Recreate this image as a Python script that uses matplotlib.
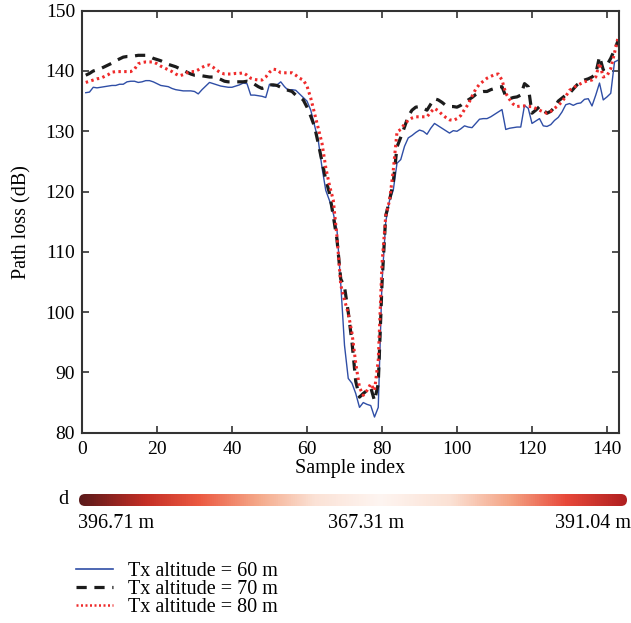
import matplotlib
matplotlib.use("Agg")
import matplotlib.pyplot as plt
import numpy as np
from matplotlib.colors import LinearSegmentedColormap
from matplotlib.lines import Line2D
from matplotlib.patches import FancyBboxPatch

# sample indices 1..143
sample = np.arange(1, 144)

loss_60 = [
    136.4, 136.5, 137.3, 137.2, 137.3, 137.4, 137.5, 137.6, 137.6, 137.8,
    137.8, 138.2, 138.3, 138.3, 138.1, 138.2, 138.4, 138.4, 138.2, 137.9,
    137.6, 137.5, 137.4, 137.1, 136.9, 136.8, 136.7, 136.7, 136.7, 136.6,
    136.2, 136.9, 137.5, 138.1, 137.9, 137.7, 137.5, 137.4, 137.3, 137.3,
    137.5, 137.7, 138.0, 137.9, 136.0, 136.0, 135.9, 135.8, 135.6, 137.8,
    137.5, 137.7, 138.2, 137.4, 136.8, 136.9, 136.8, 136.2, 135.6, 135.0,
    133.5, 131.0, 128.5, 124.0, 120.2, 118.5, 116.4, 113.6, 104.7, 94.5,
    89.0, 88.2, 86.5, 84.2, 85.0, 84.7, 84.5, 82.6, 84.2, 105.0,
    115.0, 118.5, 120.2, 124.7, 125.3, 127.5, 128.9, 129.3, 129.8, 130.2,
    130.0, 129.5, 130.5, 131.3, 130.9, 130.5, 130.1, 129.7, 130.1, 130.0,
    130.4, 130.9, 130.7, 130.6, 131.3, 132.0, 132.1, 132.1, 132.4, 132.8,
    133.2, 133.6, 130.3, 130.5, 130.6, 130.7, 130.7, 134.3, 133.8, 131.3,
    131.7, 132.1, 130.9, 130.8, 131.1, 131.8, 132.3, 133.2, 134.4, 134.6,
    134.3, 134.6, 134.7, 135.3, 135.4, 134.2, 136.0, 138.0, 135.2, 135.7,
    136.3, 141.5, 141.8,
]

loss_70 = [
    139.3, 139.6, 140.0, 140.2, 140.4, 140.7, 141.0, 141.3, 141.7, 142.0,
    142.3, 142.4, 142.4, 142.5, 142.6, 142.6, 142.6, 142.4, 142.1, 141.9,
    141.7, 141.4, 141.1, 140.9, 140.7, 140.4, 140.1, 139.8, 139.5, 139.3,
    139.3, 139.2, 139.1, 139.0, 139.0, 138.9, 138.6, 138.3, 138.2, 138.2,
    138.2, 138.2, 138.2, 138.3, 138.2, 137.8, 137.4, 137.1, 137.3, 137.7,
    137.7, 137.6, 137.3, 136.9, 136.8, 136.6, 136.0, 135.7, 135.2, 134.0,
    132.5, 130.8, 128.0, 125.0, 122.0, 119.7, 116.0, 112.0, 105.5, 104.2,
    100.0, 95.0, 88.5, 85.9, 86.5, 87.0, 87.5, 85.3, 88.1, 104.7,
    116.0, 118.5, 121.5, 127.4, 129.0, 130.7, 132.5, 133.5, 134.0, 134.1,
    133.8, 133.5, 134.5, 135.4, 135.2, 134.8, 134.3, 134.1, 134.1, 134.0,
    134.3, 134.8, 135.2, 135.6, 136.1, 136.5, 136.6, 136.6, 136.9, 137.1,
    137.3, 137.4, 135.8, 135.4, 135.6, 135.7, 136.0, 137.9, 137.4, 133.0,
    133.5, 134.1, 133.5, 133.0, 133.3, 134.0, 135.0, 135.5, 136.0, 136.3,
    137.0, 137.7, 138.2, 138.5, 138.7, 139.0, 139.5, 142.4, 140.2, 141.0,
    142.1, 143.5, 145.1,
]

loss_80 = [
    138.1, 138.3, 138.5, 138.7, 138.8, 139.1, 139.4, 139.8, 139.9, 139.9,
    139.9, 139.9, 139.9, 140.3, 141.2, 141.4, 141.5, 141.5, 141.5, 141.2,
    140.8, 140.5, 140.2, 139.9, 139.5, 139.2, 139.4, 139.7, 139.9, 139.9,
    140.2, 140.6, 140.9, 141.0, 140.6, 140.1, 139.7, 139.5, 139.5, 139.5,
    139.6, 139.6, 139.7, 139.3, 138.8, 138.6, 138.5, 138.5, 139.0, 139.8,
    140.3, 140.2, 139.7, 139.7, 139.7, 139.7, 139.3, 138.8, 138.5, 137.5,
    135.5, 133.0, 130.5, 128.0, 124.0, 121.0, 118.6, 112.5, 104.5, 102.0,
    99.8, 96.5, 91.5, 87.5, 86.2, 87.0, 88.1, 87.0, 92.0, 108.0,
    116.0, 118.5, 123.5, 129.9, 130.3, 131.2, 131.8, 132.2, 132.4, 132.4,
    132.4, 132.4, 133.2, 133.8, 133.4, 132.8, 132.3, 131.9, 131.8, 132.1,
    132.6, 133.6, 134.5, 135.8, 137.0, 137.8, 138.3, 138.8, 139.1, 139.4,
    139.5, 138.5, 136.3, 135.3, 134.5, 134.1, 134.2, 134.2, 134.1, 134.1,
    133.8, 133.5, 133.2, 133.0, 133.3, 133.8, 134.3, 134.9, 135.8, 136.8,
    137.2, 137.6, 137.9, 138.2, 138.4, 138.5, 139.0, 141.3, 139.0, 139.2,
    140.4, 143.0, 145.7,
]

labels = ["Tx altitude = 60 m", "Tx altitude = 70 m", "Tx altitude = 80 m"]
dist_labels = ["396.71 m", "367.31 m", "391.04 m"]

# colour stops of the distance bar (position along bar, colour)
bar_stops = [0.0, 0.12, 0.22, 0.33, 0.43, 0.55, 0.68, 0.79, 0.89, 1.0]
bar_colors = ["#5a1a1a", "#c42e25", "#ec5a42", "#f5ab8c", "#fbe2d6",
              "#fef5f1", "#fbe1d4", "#f4a283", "#e8493a", "#b01f20"]

plt.rcParams["font.family"] = ["Liberation Serif", "DejaVu Serif"]
FS = 14.5

fig = plt.figure(figsize=(6.31, 6.23), dpi=100)
ax = fig.add_axes([82 / 631, 1 - 432.7 / 623, (619 - 82) / 631, (432.7 - 10.7) / 623])

ax.plot(sample, loss_60, "-", color="#2f4ea6", linewidth=1.0)
ax.plot(sample, loss_70, color="#1c1c1c", linewidth=2.3, dashes=(3.2, 2.4))
ax.plot(sample, loss_80, color="#ef2b2b", linewidth=2.2, linestyle=(0, (0.8, 1.1)))

ax.set_xlim(0, 143.2)
ax.set_ylim(80, 150)
ax.set_xticks(range(0, 141, 20))
ax.set_yticks(range(80, 151, 10))
ax.tick_params(direction="in", top=True, right=True, length=5, width=1.2,
               color="#333333", labelsize=14, pad=5)
ax.tick_params(axis="x", pad=6)
for s in ax.spines.values():
    s.set_linewidth(1.5)
    s.set_color("#333333")
ax.set_xlabel("Sample index", fontsize=FS, labelpad=1)
ax.set_ylabel("Path loss (dB)", fontsize=FS, labelpad=10)

# distance colour bar with rounded ends
bar_l, bar_r, bar_top, bar_bot = 79, 627, 494, 506
bax = fig.add_axes([bar_l / 631, 1 - bar_bot / 623, (bar_r - bar_l) / 631, (bar_bot - bar_top) / 623])
bw, bh = bar_r - bar_l, bar_bot - bar_top
bax.set_xlim(0, bw)
bax.set_ylim(0, bh)
bax.axis("off")
cmap = LinearSegmentedColormap.from_list("dist", list(zip(bar_stops, bar_colors)))
grad = np.linspace(0, 1, 512)[None, :]
im = bax.imshow(grad, cmap=cmap, aspect="auto", extent=(0, bw, 0, bh))
clip = FancyBboxPatch((0, 0), bw, bh, boxstyle=f"round,pad=0,rounding_size={bh / 2}",
                      transform=bax.transData, facecolor="none", edgecolor="none")
bax.add_patch(clip)
im.set_clip_path(clip)

fig.text(68 / 631, 1 - 499 / 623, "d", ha="right", va="center", fontsize=FS)
fig.text(78 / 631, 1 - 524 / 623, dist_labels[0], ha="left", va="center", fontsize=FS)
fig.text(366 / 631, 1 - 524 / 623, dist_labels[1], ha="center", va="center", fontsize=FS)
fig.text(631 / 631, 1 - 524 / 623, dist_labels[2], ha="right", va="center", fontsize=FS)

handles = [
    Line2D([], [], color="#2f4ea6", linewidth=1.2),
    Line2D([], [], color="#1c1c1c", linewidth=2.3, dashes=(3.2, 2.4)),
    Line2D([], [], color="#ef2b2b", linewidth=1.8, linestyle=(0, (0.8, 1.0))),
]
fig.legend(handles, labels, loc="upper left", bbox_to_anchor=(76 / 631, 1 - 562 / 623),
           frameon=False, handlelength=1.85, handletextpad=0.75, labelspacing=-0.05,
           borderaxespad=0, borderpad=0, fontsize=14.5)

fig.savefig("out.png", dpi=100)
